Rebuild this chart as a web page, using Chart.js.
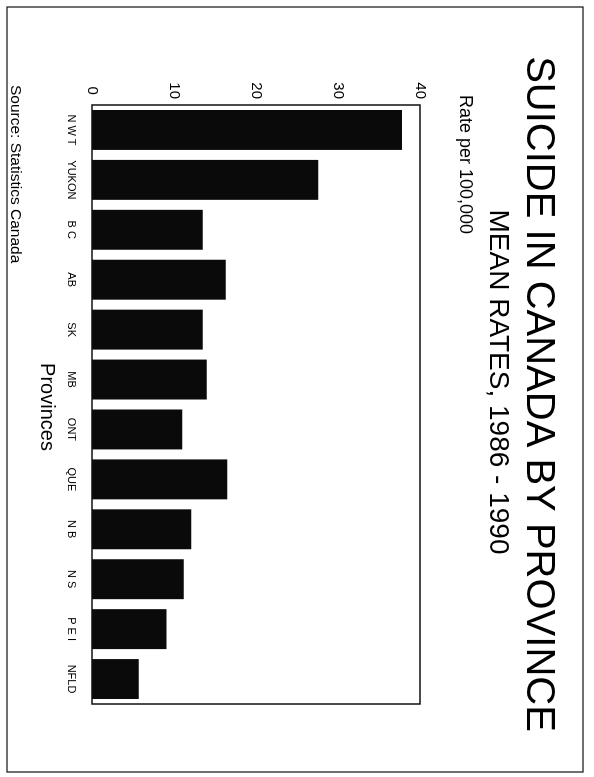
<!DOCTYPE html>
<html>
<head>
<meta charset="utf-8">
<script src="https://cdn.jsdelivr.net/npm/chart.js@4.4.0/dist/chart.umd.min.js"></script>
<style>
  html, body { margin: 0; padding: 0; overflow: hidden; background: #fff; }
  /* the scanned page is turned a quarter turn clockwise */
  #wrap {
    position: absolute; left: 0; top: 0;
    width: 777px; height: 594px;
    transform-origin: 0 0;
    transform: translate(594px, 0) rotate(90deg);
    background: #fff;
  }
</style>
</head>
<body>
<div id="wrap"><canvas id="rateChart" width="777" height="594"></canvas></div>
<script>
const provinces = ['N W T', 'YUKON', 'B C', 'AB', 'SK', 'MB', 'ONT', 'QUE', 'N B', 'N S', 'P E I', 'NFLD'];
const meanRates = [37.8, 27.6, 13.5, 16.3, 13.5, 14.0, 11.0, 16.5, 12.1, 11.2, 9.1, 5.7];
const rateTicks = [0, 10, 20, 30, 40];

const FONT = '"Liberation Sans", Arial, sans-serif';

const pageText = {
    id: 'pageText',
    afterDraw(chart) {
        const ctx = chart.ctx;
        const a = chart.chartArea;
        ctx.save();
        ctx.strokeStyle = '#111';
        // plot frame
        ctx.lineWidth = 1.5;
        ctx.strokeRect(a.left, a.top, a.right - a.left, a.bottom - a.top);
        // page frame
        ctx.lineWidth = 1.2;
        ctx.strokeRect(7, 11, 765, 576);

        ctx.fillStyle = '#000';
        ctx.textBaseline = 'alphabetic';
        ctx.textAlign = 'center';
        ctx.font = '40px ' + FONT;
        ctx.fillText('SUICIDE IN CANADA BY PROVINCE', 394, 67);
        ctx.font = '28px ' + FONT;
        ctx.fillText('MEAN RATES, 1986 - 1990', 382, 104);
        ctx.font = '20px ' + FONT;
        ctx.fillText('Provinces', 407, 553);

        ctx.textAlign = 'left';
        ctx.font = '18px ' + FONT;
        ctx.fillText('Rate per 100,000', 95, 134);
        ctx.font = '15.5px ' + FONT;
        ctx.fillText('Source: Statistics Canada', 85, 583);
        ctx.restore();
    }
};

new Chart(document.getElementById('rateChart'), {
    type: 'bar',
    data: {
        labels: provinces,
        datasets: [{
            data: meanRates,
            backgroundColor: '#0a0a0a',
            borderWidth: 0,
            categoryPercentage: 1,
            barPercentage: 0.8
        }]
    },
    options: {
        responsive: false,
        animation: false,
        layout: { padding: { left: 60, top: 174, right: 73, bottom: 0 } },
        scales: {
            x: {
                grid: { display: false, drawTicks: false },
                border: { display: false },
                ticks: {
                    font: { family: FONT, size: 11 },
                    color: '#000',
                    padding: 14,
                    maxRotation: 0,
                    autoSkip: false
                },
                afterFit(scale) { scale.height = 92; }
            },
            y: {
                min: 0,
                max: 40,
                afterBuildTicks(scale) { scale.ticks = rateTicks.map(v => ({ value: v })); },
                grid: { display: false, drawTicks: false },
                border: { display: false },
                ticks: {
                    font: { family: FONT, size: 15 },
                    color: '#000',
                    padding: 6,
                    crossAlign: 'center'
                },
                afterFit(scale) { scale.width = 45; }
            }
        },
        plugins: {
            legend: { display: false },
            tooltip: { enabled: false }
        }
    },
    plugins: [pageText]
});
</script>
</body>
</html>
